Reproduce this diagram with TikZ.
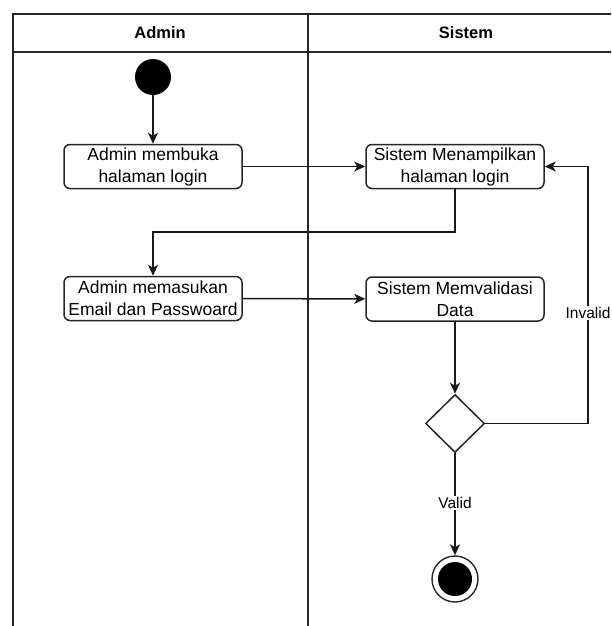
\documentclass[tikz,border=0pt]{standalone}
\usepackage{fontspec}
\setmainfont{Liberation Sans}
\usetikzlibrary{shapes.geometric,arrows.meta}
\begin{document}
\begin{tikzpicture}[x=1pt,y=-1pt,
  lane/.style={line width=1.6pt,draw=black!85},
  act/.style={draw=black!85,line width=1.5pt,rounded corners=6pt,inner sep=0pt,
    minimum width=178pt,minimum height=44pt,align=center,
    font=\fontsize{17.5}{22}\selectfont},
  flow/.style={line width=1.5pt,draw=black!90,-{Stealth[length=11pt,width=10pt,inset=3pt]}},
  hdr/.style={font=\fontsize{16.5}{18}\selectfont\bfseries},
  lbl/.style={font=\fontsize{15.5}{17}\selectfont,fill=white,inner sep=1.5pt}]
\useasboundingbox (0,0) rectangle (611,626);
\clip (0,0) rectangle (611,626);
% swimlanes
\draw[lane] (13,640) -- (13,14) -- (630,14);
\draw[lane] (13,52) -- (630,52);
\draw[lane] (308,14) -- (308,640);
\node[hdr] (hA) at (160,33) {Admin};
\node[hdr] (hS) at (466,33) {Sistem};
% nodes
\node[circle,fill=black,minimum size=36pt,inner sep=0pt] (start) at (153,77) {};
\node[act] (a1) at (153,166.5) {Admin membuka\\halaman login};
\node[act] (s1) at (455,166.5) {Sistem Menampilkan\\halaman login};
\node[act] (a2) at (153,298.5) {Admin memasukan\\Email dan Passwoard};
\node[act] (s2) at (455,299) {Sistem Memvalidasi\\Data};
\node[diamond,draw=black!85,line width=1.5pt,minimum width=59pt,minimum height=58pt,inner sep=0pt] (dec) at (455,423.5) {};
\node[circle,draw=black!85,line width=1.4pt,minimum size=46pt,inner sep=0pt] (end) at (455,579) {};
\node[circle,fill=black,minimum size=34pt,inner sep=0pt] (endin) at (455,579) {};
% flows
\draw[flow] (start) -- (a1);
\draw[flow] (a1) -- (s1);
\draw[flow] (s1.south) -- (455,232) -- (153,232) -- (a2.north);
\draw[flow] (a2) -- (s2);
\draw[flow] (s2) -- (dec);
\draw[flow] (dec.east) -- (588,423.5) -- (588,166.5) -- (s1.east);
\node[lbl] (inv) at (588,313) {Invalid};
\draw[flow] (dec.south) -- (end.north);
\node[lbl] (val) at (455,503) {Valid};
\end{tikzpicture}
\end{document}
